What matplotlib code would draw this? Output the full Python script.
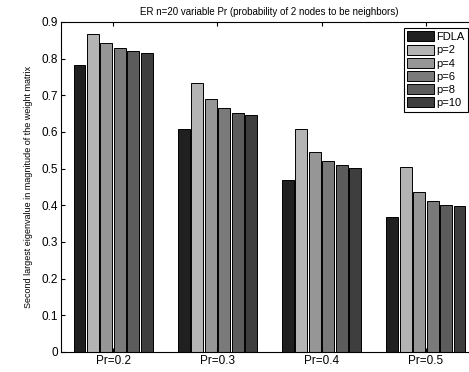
import numpy as np
import matplotlib.pyplot as plt

plt.rcParams['font.family'] = ['Liberation Sans', 'DejaVu Sans']

groups = ['Pr=0.2', 'Pr=0.3', 'Pr=0.4', 'Pr=0.5']
series = ['FDLA', 'p=2', 'p=4', 'p=6', 'p=8', 'p=10']
fdla = [0.782, 0.607, 0.468, 0.367]
p2 = [0.867, 0.735, 0.609, 0.504]
p4 = [0.842, 0.689, 0.546, 0.436]
p6 = [0.830, 0.666, 0.521, 0.412]
p8 = [0.821, 0.653, 0.509, 0.402]
p10 = [0.815, 0.645, 0.501, 0.399]
values = [fdla, p2, p4, p6, p8, p10]
colors = ['#202020', '#b4b4b4', '#969696', '#7a7a7a', '#5c5c5c', '#3e3e3e']

fig = plt.figure(figsize=(4.69, 3.72), dpi=100)
# axes runs past the right edge of the figure, like the cropped original
ax = fig.add_axes([61/469, 20/372, 417/469, 330/372])

x = np.arange(1, len(groups) + 1)
slot = 0.129
for i, (vals, c, name) in enumerate(zip(values, colors, series)):
    offs = (i - 2.5) * slot
    ax.bar(x + offs, vals, width=0.115, color=c, edgecolor='black',
           linewidth=0.7, label=name)

ax.set_xlim(0.5, 4.5)
ax.set_ylim(0, 0.9)
ax.set_xticks(x)
ax.set_xticklabels(groups, fontsize=8.5)
ax.set_yticks(np.arange(0, 0.91, 0.1))
ax.set_yticklabels(['0'] + [f'{v:.1f}' for v in np.arange(0.1, 0.91, 0.1)], fontsize=8.5)
ax.tick_params(direction='in', top=True, right=True, length=3, width=0.8, pad=2)
for s in ax.spines.values():
    s.set_linewidth(0.8)

ax.set_ylabel('Second largest eigenvalue in magnitude of the weight matrix', fontsize=6.5, labelpad=6)
ax.set_title('ER n=20 variable Pr (probability of 2 nodes to be neighbors)', fontsize=7, pad=5)

# legend sits against the figure's right edge
leg = ax.legend(loc='upper right', bbox_to_anchor=(468/469, 1 - 28/372),
                bbox_transform=fig.transFigure, fontsize=8,
                fancybox=False, edgecolor='black', framealpha=1,
                handlelength=2.4, handleheight=1.0, handletextpad=0.25,
                labelspacing=0.22, borderpad=0.3, borderaxespad=0.0)
leg.get_frame().set_linewidth(0.8)

fig.savefig('out.png', dpi=100)
